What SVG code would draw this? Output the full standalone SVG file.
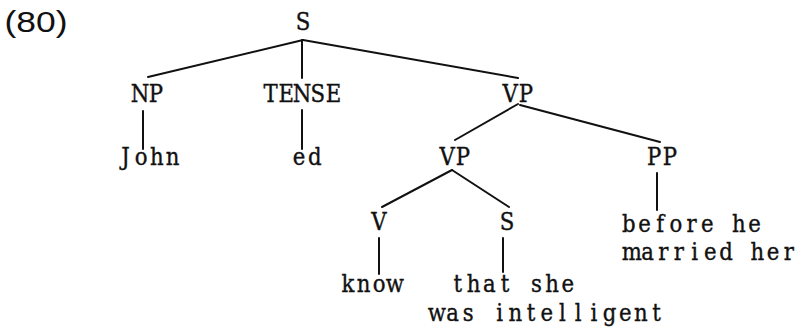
<svg xmlns="http://www.w3.org/2000/svg" width="808" height="329" viewBox="0 0 808 329">
<style>
text{font-family:"DejaVu Serif","Liberation Serif",serif;font-size:25px;fill:#111;stroke:#111;stroke-width:0.4;text-anchor:middle}
#edges line{stroke:#111;stroke-width:2;stroke-linecap:round}
</style>
<rect width="808" height="329" fill="#fff"/>
<text x="36" y="32" textLength="63" lengthAdjust="spacingAndGlyphs" style="font-family:'Liberation Sans',sans-serif;font-size:29px;stroke-width:0">(80)</text>
<g id="edges">
<line x1="303" y1="40" x2="148" y2="77"/>
<line x1="302" y1="40" x2="302" y2="78"/>
<line x1="303" y1="40" x2="518" y2="78"/>
<line x1="143" y1="111" x2="143" y2="149"/>
<line x1="302" y1="110" x2="302" y2="149"/>
<line x1="518" y1="104" x2="455" y2="140"/>
<line x1="520" y1="105" x2="660" y2="142"/>
<line x1="452" y1="170" x2="382" y2="207"/>
<line x1="452" y1="170" x2="509" y2="207"/>
<line x1="657" y1="173" x2="657" y2="210"/>
<line x1="379" y1="238" x2="379" y2="274"/>
<line x1="503" y1="238" x2="503" y2="272"/>
</g>
<g id="n-S" transform="translate(303 0) scale(0.85 1)"><text x="0" y="30">S</text></g>
<g id="n-NP" transform="translate(132.3 0) scale(0.85 1)"><text x="9.24 27.71" y="102">NP</text></g>
<g id="n-TENSE" transform="translate(262.75 0) scale(0.85 1)"><text x="9.24 27.71 46.18 64.65 83.12" y="102">TENSE</text></g>
<g id="n-VP" transform="translate(502.3 0) scale(0.85 1)"><text x="9.24 27.71" y="102">VP</text></g>
<g id="n-John" transform="translate(117.6 0) scale(0.85 1)"><text x="9.24 27.71 46.18 64.65" y="165">John</text></g>
<g id="n-ed" transform="translate(291.3 0) scale(0.85 1)"><text x="9.24 27.71" y="165">ed</text></g>
<g id="n-VP2" transform="translate(439.3 0) scale(0.85 1)"><text x="9.24 27.71" y="165">VP</text></g>
<g id="n-PP" transform="translate(646.3 0) scale(0.85 1)"><text x="9.24 27.71" y="165">PP</text></g>
<g id="n-V" transform="translate(379 0) scale(0.85 1)"><text x="0" y="230">V</text></g>
<g id="n-S2" transform="translate(507 0) scale(0.85 1)"><text x="0" y="230">S</text></g>
<g id="n-PPtext">
<g transform="translate(621 0) scale(0.85 1)"><text x="9.24 27.71 46.18 64.65 83.12 101.59 120.06 138.53 157" y="232">before he</text></g>
<g transform="translate(624 0) scale(0.85 1)"><text x="9.24 27.71 46.18 64.65 83.12 101.59 120.06 138.53 157 175.47 193.94" y="260">married her</text></g>
</g>
<g id="n-know" transform="translate(340 0) scale(0.85 1)"><text x="9.24 27.71 46.18 64.65" y="292">know</text></g>
<g id="n-that">
<g transform="translate(450 0) scale(0.85 1)"><text x="9.24 27.71 46.18 64.65 83.12 101.59 120.06 138.53" y="292">that she</text></g>
<g transform="translate(429 0) scale(0.85 1)"><text x="9.24 27.71 46.18 64.65 83.12 101.59 120.06 138.53 157 175.47 193.94 212.41 230.88 249.35 267.82" y="321">was intelligent</text></g>
</g>
</svg>
